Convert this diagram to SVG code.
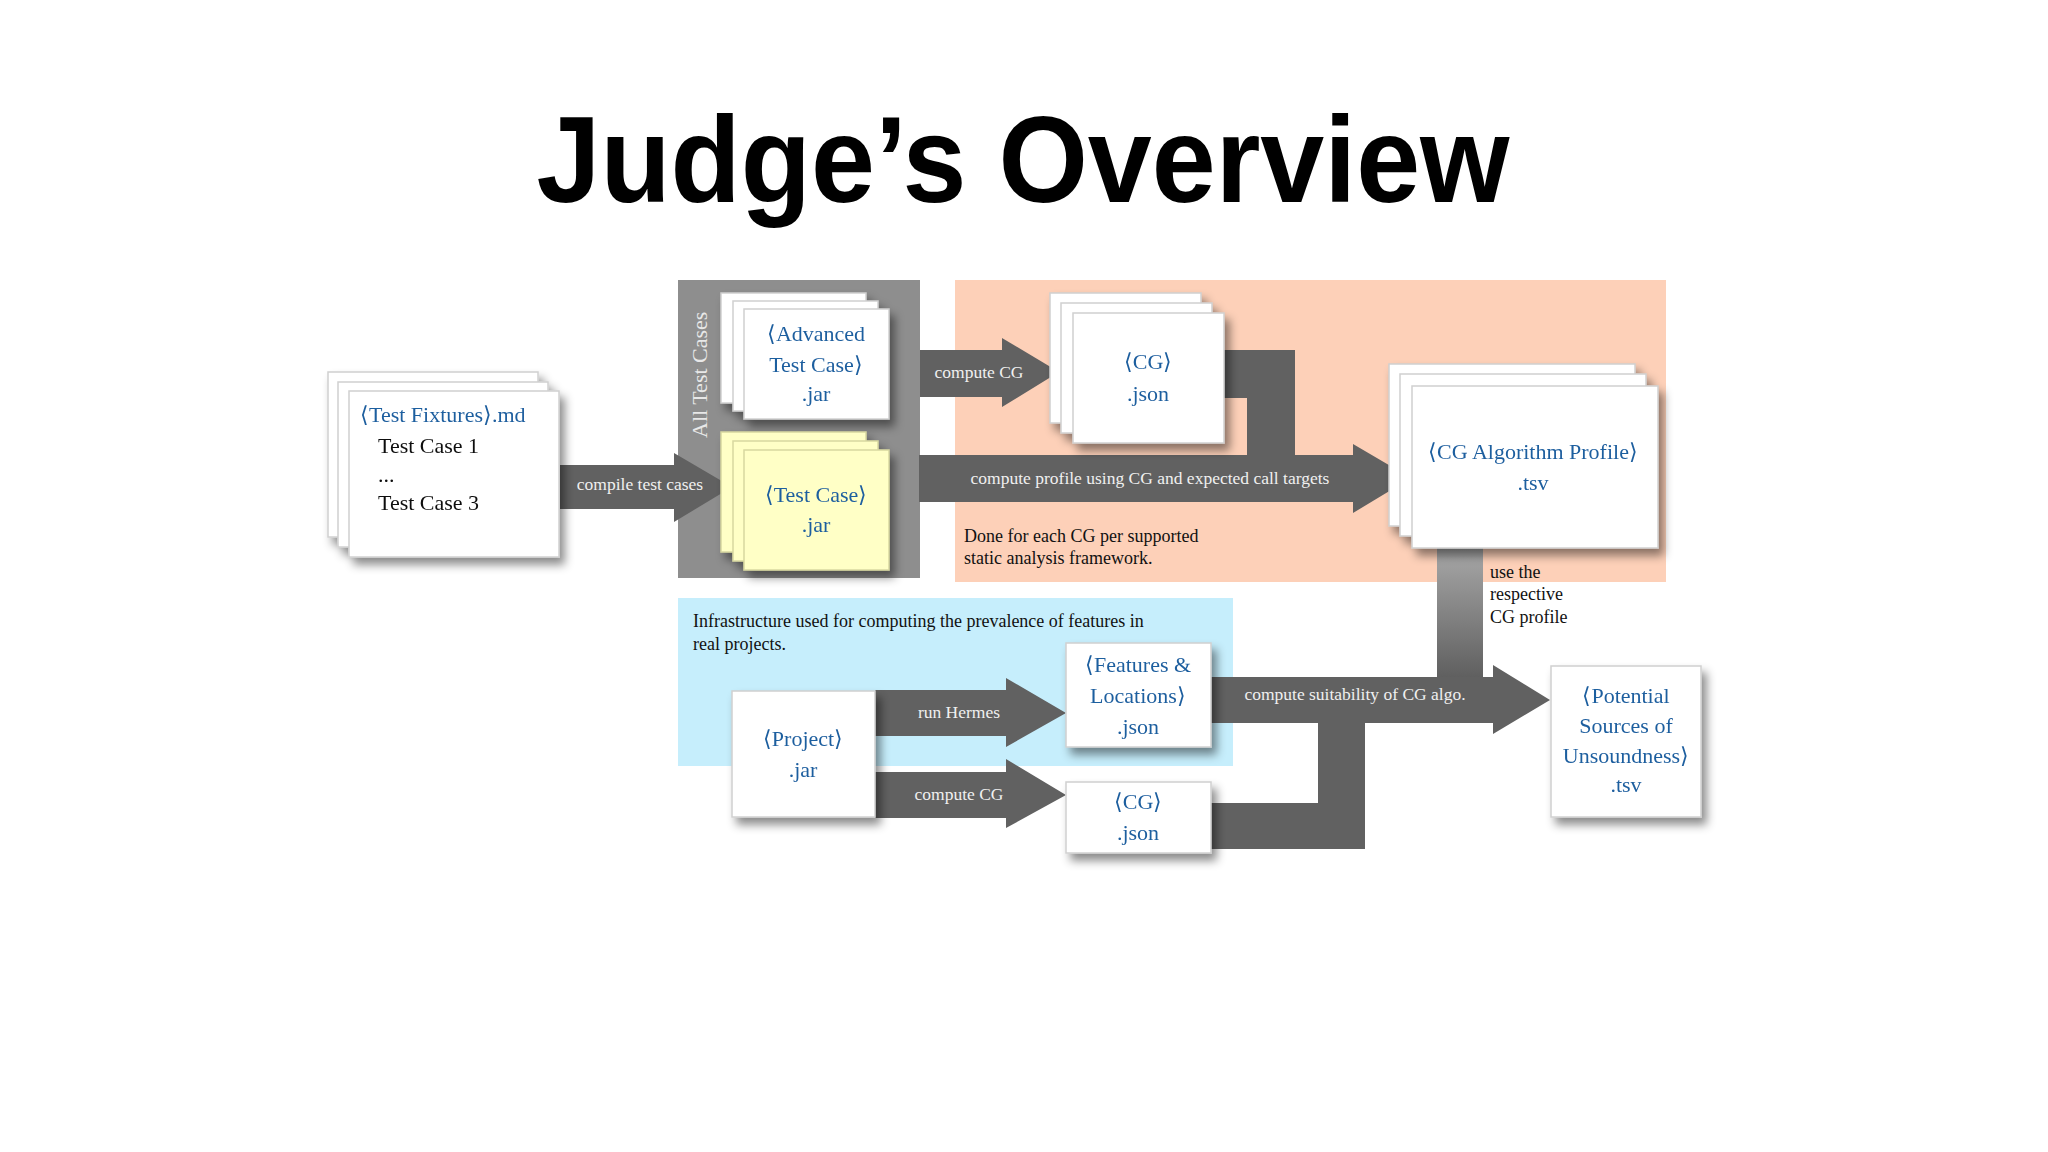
<svg xmlns="http://www.w3.org/2000/svg" width="2048" height="1152" viewBox="0 0 2048 1152">
<defs>
<filter id="sh" x="-20%" y="-20%" width="150%" height="150%"><feDropShadow dx="5" dy="7" stdDeviation="5" flood-color="#000" flood-opacity="0.45"/></filter>
<linearGradient id="vg" x1="0" y1="0" x2="0" y2="1"><stop offset="0" stop-color="#a8a8a8"/><stop offset="1" stop-color="#5f5f5f"/></linearGradient>
</defs>
<style>
.doc{fill:#fff;stroke:#d0d0d0;stroke-width:1.5}
.yel{fill:#ffffc6;stroke:#d8d8a0;stroke-width:1.5}
.ar{fill:#616161}
.t{font-family:"Liberation Serif",serif;font-size:22px}
.b{fill:#1f5f9f}
.k{fill:#111}
.c{text-anchor:middle}
.w{font-family:"Liberation Serif",serif;font-size:17.5px;fill:#f0f0f0}
.n{font-family:"Liberation Serif",serif;font-size:18px;fill:#111}
</style>
<rect width="2048" height="1152" fill="#fff"/>
<text x="1023" y="202" text-anchor="middle" font-family="Liberation Sans, sans-serif" font-weight="bold" font-size="122" textLength="973" lengthAdjust="spacingAndGlyphs" fill="#000">Judge’s Overview</text>

<g id="backgrounds">
<rect x="678" y="280" width="242" height="298" fill="#8e8e8e"/>
<rect x="955" y="280" width="711" height="302" fill="#fdd0b8"/>
<rect x="678" y="598" width="555" height="168" fill="#c6eefc"/>
<text x="0" y="0" transform="translate(707,438) rotate(-90)" font-family="Liberation Serif, serif" font-size="22" fill="#e8e8e8">All Test Cases</text>
<text x="964" y="542" class="n">Done for each CG per supported</text>
<text x="964" y="564" class="n">static analysis framework.</text>
<text x="693" y="627" class="n">Infrastructure used for computing the prevalence of features in</text>
<text x="693" y="650" class="n">real projects.</text>
</g>

<g id="connectors">
<polygon class="ar" points="560,465 674,465 674,453 732,487 674,522 674,509 560,509"/>
<text x="640" y="490" class="w c">compile test cases</text>
<polygon class="ar" points="920,350 1002,350 1002,338 1059,372 1002,407 1002,397 920,397"/>
<text x="979" y="378" class="w c">compute CG</text>
<polygon class="ar" points="1224,350 1295,350 1295,455 1353,455 1353,444 1411,478 1353,513 1353,502 919,502 919,455 1247,455 1247,398 1224,398"/>
<text x="1150" y="484" class="w c">compute profile using CG and expected call targets</text>
<rect x="1437" y="548" width="46" height="130" fill="url(#vg)"/>
<polygon class="ar" points="875,690 1006,690 1006,678 1066,713 1006,747 1006,736 875,736"/>
<text x="959" y="718" class="w c">run Hermes</text>
<polygon class="ar" points="875,772 1006,772 1006,759 1066,795 1006,828 1006,818 875,818"/>
<text x="959" y="800" class="w c">compute CG</text>
<polygon class="ar" points="1211,677 1493,677 1493,665 1550,700 1493,734 1493,723 1365,723 1365,849 1211,849 1211,803 1318,803 1318,723 1211,723"/>
<text x="1355" y="700" class="w c">compute suitability of CG algo.</text>
<text x="1490" y="578" class="n">use the</text>
<text x="1490" y="600" class="n">respective</text>
<text x="1490" y="623" class="n">CG profile</text>
</g>

<g id="test-fixtures" filter="url(#sh)">
<rect class="doc" x="328" y="372" width="210" height="165"/>
<rect class="doc" x="338" y="382" width="210" height="165"/>
<rect class="doc" x="349" y="391" width="210" height="166"/>
<text x="360" y="422" class="t b">⟨Test Fixtures⟩.md</text>
<text x="378" y="453" class="t k">Test Case 1</text>
<text x="378" y="482" class="t k">...</text>
<text x="378" y="510" class="t k">Test Case 3</text>
</g>

<g id="advanced-test-case" filter="url(#sh)">
<rect class="doc" x="721" y="293" width="145" height="110"/>
<rect class="doc" x="733" y="301" width="145" height="110"/>
<rect class="doc" x="744" y="309" width="145" height="110"/>
<text x="816" y="341" class="t b c">⟨Advanced</text>
<text x="816" y="372" class="t b c">Test Case⟩</text>
<text x="816" y="401" class="t b c">.jar</text>
</g>

<g id="test-case" filter="url(#sh)">
<rect class="yel" x="721" y="432" width="145" height="120"/>
<rect class="yel" x="733" y="441" width="145" height="120"/>
<rect class="yel" x="744" y="450" width="145" height="120"/>
<text x="816" y="502" class="t b c">⟨Test Case⟩</text>
<text x="816" y="532" class="t b c">.jar</text>
</g>

<g id="cg-json-top" filter="url(#sh)">
<rect class="doc" x="1050" y="293" width="151" height="130"/>
<rect class="doc" x="1061" y="303" width="151" height="130"/>
<rect class="doc" x="1073" y="313" width="151" height="130"/>
<text x="1148" y="369" class="t b c">⟨CG⟩</text>
<text x="1148" y="401" class="t b c">.json</text>
</g>

<g id="cg-algorithm-profile" filter="url(#sh)">
<rect class="doc" x="1389" y="364" width="246" height="162"/>
<rect class="doc" x="1400" y="374" width="246" height="162"/>
<rect class="doc" x="1412" y="386" width="246" height="162"/>
<text x="1533" y="459" class="t b c">⟨CG Algorithm Profile⟩</text>
<text x="1533" y="490" class="t b c">.tsv</text>
</g>

<g id="project" filter="url(#sh)">
<rect class="doc" x="732" y="691" width="143" height="126"/>
<text x="803" y="746" class="t b c">⟨Project⟩</text>
<text x="803" y="777" class="t b c">.jar</text>
</g>

<g id="features" filter="url(#sh)">
<rect class="doc" x="1066" y="643" width="145" height="104"/>
<text x="1138" y="672" class="t b c">⟨Features &amp;</text>
<text x="1138" y="703" class="t b c">Locations⟩</text>
<text x="1138" y="734" class="t b c">.json</text>
</g>

<g id="cg-json-bottom" filter="url(#sh)">
<rect class="doc" x="1066" y="782" width="145" height="71"/>
<text x="1138" y="809" class="t b c">⟨CG⟩</text>
<text x="1138" y="840" class="t b c">.json</text>
</g>

<g id="potential-sources" filter="url(#sh)">
<rect class="doc" x="1551" y="666" width="150" height="151"/>
<text x="1626" y="703" class="t b c">⟨Potential</text>
<text x="1626" y="733" class="t b c">Sources of</text>
<text x="1626" y="763" class="t b c">Unsoundness⟩</text>
<text x="1626" y="792" class="t b c">.tsv</text>
</g>
</svg>
